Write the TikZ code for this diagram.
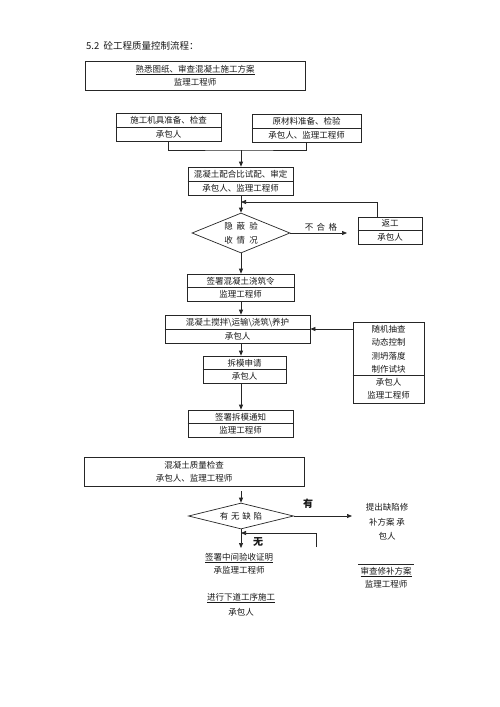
\documentclass[tikz,border=0pt]{standalone}
\usepackage{fontspec}
\setmainfont{Noto Sans CJK SC}
\usetikzlibrary{arrows.meta,shapes.geometric,calc}
\begin{document}
\begin{tikzpicture}[x=1pt,y=-1pt,
  every node/.style={font=\fontsize{8.5}{13.5}\selectfont, inner sep=0pt, text=black!90},
  box/.style={draw=black!85, line width=0.7pt, align=center, inner sep=0pt},
  ln/.style={draw=black!85, line width=0.7pt},
  arr/.style={ln, -{Triangle[length=5pt,width=4pt]}},
  dia/.style={diamond, draw=black!85, line width=0.7pt, align=center, inner sep=0pt},
  lbl/.style={align=center}
]
\useasboundingbox[fill=white] (0,0) rectangle (500,707);

\coordinate (axis) at (241,0);
\node[anchor=west, font=\fontsize{9.5}{12}\selectfont] (title) at (86,46) {5.2\ \ 砼工程质量控制流程：};

% top box
\node[box, minimum width=220, minimum height=29] (b1) at (195,75.5) {\underline{熟悉图纸、审查混凝土施工方案}\\监理工程师};

% preparation boxes
\node[box, minimum width=105, minimum height=28] (b2) at (168.5,127) {施工机具准备、检查\\承包人};
\draw[ln] (b2.west) -- (b2.east);
\node[box, minimum width=109, minimum height=28] (b3) at (306.5,128) {原材料准备、检验\\承包人、监理工程师};
\draw[ln] (b3.west) -- (b3.east);

\coordinate (mrg) at (241,150);
\draw[ln] (b2.south) |- (mrg) -| (b3.south);

\node[box, minimum width=105, minimum height=28] (b4) at (240.5,181) {混凝土配合比试配、审定\\承包人、监理工程师};
\draw[ln] (b4.west) -- (b4.east);
\draw[arr] (mrg) -- (b4.north -| mrg);

% diamond 1
\node[dia, minimum width=98, minimum height=40, aspect=2.45] (d1) at (241,233) {隐\kern4pt 蔽\kern4pt 验\\收\kern4pt 情\kern4pt 况};
\draw[arr] (b4.south -| axis) -- (d1.north);

% rework
\node[box, minimum width=64, minimum height=27] (b5) at (390,230.5) {返工\\承包人};
\draw[ln] (b5.west) -- (b5.east);
\coordinate (ax1) at (347,0);
\draw[arr] (d1.east) -- (d1.east -| ax1);
\node (ng) at (321,227.5) {不\kern3.5pt 合\kern3.5pt 格};
\coordinate (fbx) at (377,0);
\coordinate (fb1) at (241,202);
\draw[arr] (b5.north -| fbx) |- (fb1);

% pouring order
\node[box, minimum width=107, minimum height=27] (b6) at (240.5,287.5) {签署混凝土浇筑令\\监理工程师};
\draw[ln] (b6.west) -- (b6.east);
\draw[arr] (d1.south) -- (b6.north -| d1.south);

\node[box, minimum width=145, minimum height=28] (b7) at (237.5,329) {混凝土搅拌\textbackslash 运输\textbackslash 浇筑\textbackslash 养护\\承包人};
\draw[ln] (b7.west) -- (b7.east);
\draw[arr] (b6.south -| axis) -- (b7.north -| axis);

\node[box, minimum width=83, minimum height=27] (b8) at (244.5,369.5) {拆模申请\\承包人};
\draw[ln] (b8.west) -- (b8.east);
\draw[arr] (b7.south -| axis) -- (b8.north -| axis);

% random check box
\node[box, minimum width=71, minimum height=81, font=\fontsize{8.5}{13.2}\selectfont] (b9) at (388.5,362.5) {随机抽查\\动态控制\\测坍落度\\制作试块\\承包人\\监理工程师};
\coordinate (dv) at (0,375);
\draw[ln] (b9.west |- dv) -- (b9.east |- dv);
\draw[arr] (b9.west |- b7.east) -- (b7.east);

\node[box, minimum width=105, minimum height=27] (b10) at (240.5,423.5) {签署拆模通知\\监理工程师};
\draw[ln] (b10.west) -- (b10.east);
\draw[arr] (b8.south -| axis) -- (b10.north -| axis);

% quality check
\node[box, minimum width=220, minimum height=29, font=\fontsize{8.5}{12.5}\selectfont] (b11) at (194,471.5) {混凝土质量检查\\承包人、监理工程师};

% diamond 2
\coordinate (s2) at (241,491);
\node[dia, minimum width=105, minimum height=26, aspect=4] (d2) at (241,516) {有\kern2.7pt 无\kern2.7pt 缺\kern2.7pt 陷};
\draw[arr] (s2) -- (d2.north);

\coordinate (r2) at (352,0);
\draw[arr] (d2.east) -- (d2.east -| r2);
\node[font=\bfseries\fontsize{10}{12}\selectfont] (yes) at (308,504) {有};
\node[lbl, font=\fontsize{8.5}{14.5}\selectfont] (t1) at (387,522) {提出缺陷修\\补方案\ 承\\包人};

\coordinate (e2) at (0,548);
\draw[arr] (d2.south) -- (d2.south |- e2);
\node[font=\bfseries\fontsize{10}{12}\selectfont] (no) at (258,542) {无};
\coordinate (fb2s) at (316,547);
\coordinate (fb2e) at (241,533);
\draw[arr] (fb2s) |- (fb2e);

\node[lbl, font=\fontsize{8.5}{13}\selectfont] (t2) at (239,563.5) {\underline{签署中间验收证明}\\承监理工程师};
\node[lbl, font=\fontsize{8.5}{13}\selectfont] (t3) at (386,577.5) {\underline{审查修补方案}\\监理工程师};
\draw[ln] ([xshift=-2pt,yshift=3pt]t3.north west) -- ([xshift=2pt,yshift=3pt]t3.north east);
\node[lbl, font=\fontsize{8.5}{15}\selectfont] (t4) at (241,604.5) {\underline{进行下道工序施工}\\承包人};
\end{tikzpicture}
\end{document}
